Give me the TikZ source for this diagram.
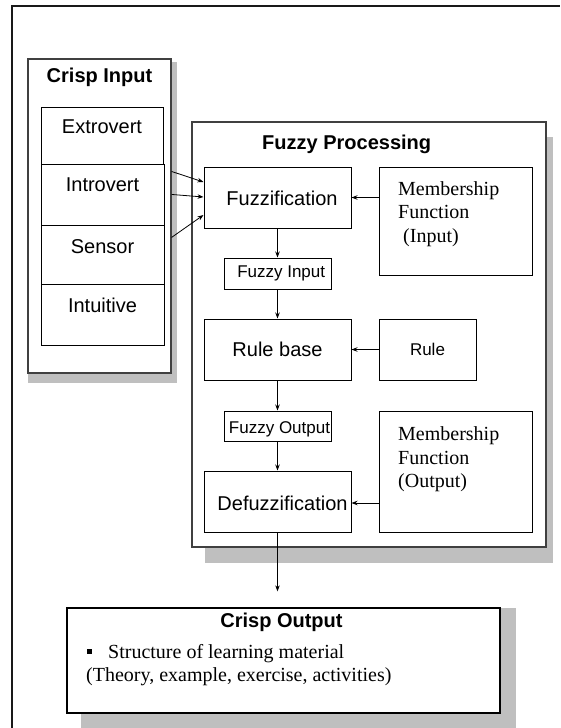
\documentclass[tikz,border=0pt]{standalone}
\usepackage{fontspec}
\setmainfont{Liberation Serif}
\setsansfont{Liberation Sans}
\usetikzlibrary{arrows.meta,calc}
\begin{document}
\begin{tikzpicture}[x=1pt,y=-1pt]
\tikzset{
  box/.style={draw=black, line width=1pt, fill=white, inner sep=0pt},
  panel/.style={draw=black!75, line width=1.1pt, fill=white, inner sep=0pt},
  shade/.style={fill=black!25, draw=none},
  lab/.style={font=\sffamily\fontsize{20}{24}\selectfont, inner sep=0pt},
  smalllab/.style={font=\sffamily\fontsize{17}{20}\selectfont, inner sep=0pt},
  heading/.style={font=\sffamily\bfseries\fontsize{20}{24}\selectfont, inner sep=0pt},
  serif/.style={font=\rmfamily\fontsize{20}{23.5}\selectfont, inner sep=0pt, align=left, anchor=north west},
  arr/.style={-{Stealth[length=6pt,width=4.5pt]}, line width=0.8pt},
}
\useasboundingbox (0,0) rectangle (560,728);
\clip (0,0) rectangle (560,728);

% outer frame (left and top edges)
\draw[line width=2pt, black!90] (12,740) -- (12,6) -- (560,6);

% drop shadows
\fill[shade] (28,62) rectangle (177,383);
\fill[shade] (205,137) rectangle (553,563);
\fill[shade] (81,608) rectangle (516,740);

% Crisp Input panel
\node[panel, minimum width=143pt, minimum height=314pt] (cin) at (99.5,216) {};
\node[heading] (cintitle) at (99.5,77) {Crisp Input};
\node[box, minimum width=122pt, minimum height=57pt] (extro) at (102,135.5) {};
\node[box, minimum width=123pt, minimum height=61pt] (intro) at (102.5,194.5) {};
\node[box, minimum width=123pt, minimum height=59pt] (sensor) at (102.5,254.5) {};
\node[box, minimum width=123pt, minimum height=61pt] (intuit) at (102.5,314.5) {};
\node[lab] (extrot) at (102,127) {Extrovert};
\node[lab] (introt) at (102.5,185) {Introvert};
\node[lab] (sensort) at (102.5,247) {Sensor};
\node[lab] (intuitt) at (102.5,305) {Intuitive};

% Fuzzy Processing panel
\node[panel, minimum width=354pt, minimum height=425pt] (fp) at (369,334.5) {};
\node[heading] (fptitle) at (346.7,144.3) {Fuzzy Processing};

\node[box, minimum width=147pt, minimum height=61pt] (fuzz) at (277.5,197.5) {};
\node[lab] (fuzzt) at (282,198) {Fuzzification};
\node[box, minimum width=153pt, minimum height=108pt] (mfin) at (455.5,221) {};
\node[serif] (mfint) at (398,181.3) {Membership\\Function\\\hspace*{5pt}(Input)};

\node[box, minimum width=107pt, minimum height=31pt] (fin) at (277.5,273.5) {};
\node[smalllab] (fint) at (281.2,273.5) {Fuzzy Input};

\node[box, minimum width=147pt, minimum height=61pt] (rb) at (277.5,349.5) {};
\node[lab] (rbt) at (277.5,349) {Rule base};
\node[box, minimum width=97pt, minimum height=61pt] (rule) at (427.5,349.5) {};
\node[smalllab] (rulet) at (427.5,349) {Rule};

\node[box, minimum width=107pt, minimum height=30pt] (fout) at (277.5,426) {};
\node[smalllab] (foutt) at (279.5,429) {Fuzzy Output};

\node[box, minimum width=147pt, minimum height=61pt] (defuzz) at (277.5,501.5) {};
\node[lab] (defuzzt) at (282.5,503) {Defuzzification};
\node[box, minimum width=153pt, minimum height=121pt] (mfout) at (455.5,471.5) {};
\node[serif] (mfoutt) at (398,426.5) {Membership\\Function\\(Output)};

% Crisp Output panel
\node[box, line width=1.3pt, minimum width=433pt, minimum height=105pt] (cout) at (283.5,660.5) {};
\node[heading] (couttitle) at (281.5,622) {Crisp Output};
\node[fill=black, inner sep=0pt, minimum size=4.5pt] (bul) at (89.5,651.5) {};
\node[font=\rmfamily\fontsize{20}{24}\selectfont, inner sep=0pt, anchor=west] (line1) at (108,653.5) {Structure of learning material};
\node[font=\rmfamily\fontsize{20}{24}\selectfont, inner sep=0pt, anchor=west] (line2) at (86,677) {(Theory, example, exercise, activities)};

% connectors
\draw[arr] ($(cin.north east)+(0,113)$) -- ($(fuzz.west)+(0,-15.5)$);
\draw[arr] ($(cin.north east)+(0,136)$) -- ($(fuzz.west)+(0,-0.5)$);
\draw[arr] ($(cin.north east)+(0,179)$) -- ($(fuzz.west)+(0,17.5)$);

\draw[arr] (fuzz.south) -- (fin.north);
\draw[arr] (fin.south) -- (rb.north);
\draw[arr] (rb.south) -- (fout.north);
\draw[arr] (fout.south) -- (defuzz.north);
\draw[arr, shorten >=16pt] (defuzz.south) -- (defuzz.south |- cout.north);

\draw[arr] (fuzz.east -| mfin.west) -- (fuzz.east);
\draw[arr] (rb.east -| rule.west) -- (rb.east);
\draw[arr] ($(defuzz.east -| mfout.west)+(0,1.5)$) -- ($(defuzz.east)+(0,1.5)$);
\end{tikzpicture}
\end{document}
